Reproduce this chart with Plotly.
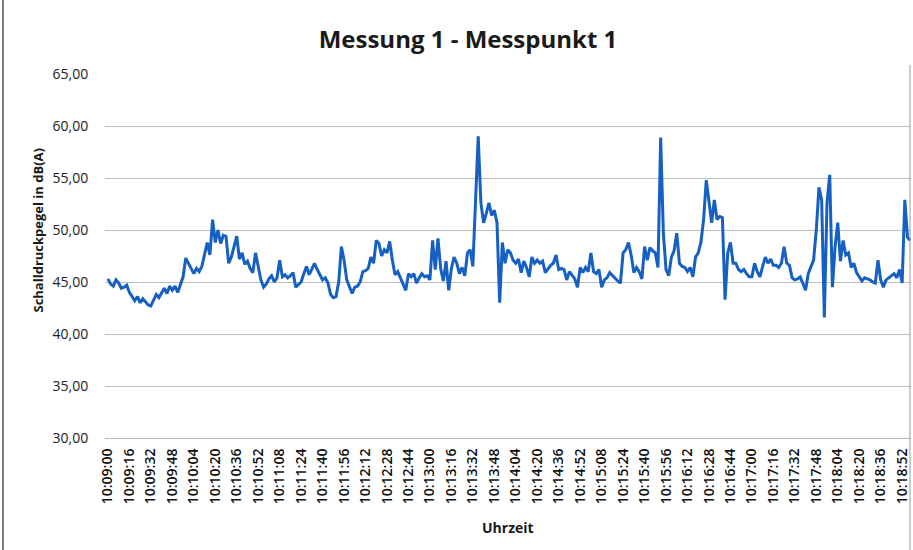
import pandas as pd
import plotly.graph_objects as go

# Schalldruckpegel in dB(A), one reading every 2 seconds starting 10:09:00
pegel = [
    45.3, 44.8, 44.6, 45.2, 44.9, 44.4, 44.5, 44.7,   # 10:09:00
    44.0, 43.6, 43.2, 43.6, 43.0, 43.4, 43.1, 42.8,   # 10:09:16
    42.7, 43.2, 43.8, 43.5, 44.0, 44.4, 43.9, 44.6,   # 10:09:32
    44.2, 44.6, 44.0, 44.8, 45.5, 47.3, 46.8, 46.2,   # 10:09:48
    45.8, 46.3, 46.0, 46.5, 47.8, 48.8, 47.6, 51.0,   # 10:10:04
    48.8, 50.0, 48.7, 49.5, 49.4, 46.8, 47.4, 48.4,   # 10:10:20
    49.4, 47.2, 47.8, 46.7, 47.0, 46.3, 45.9, 47.8,   # 10:10:36
    46.3, 45.2, 44.5, 44.8, 45.3, 45.6, 45.0, 45.4,   # 10:10:52
    47.1, 45.5, 45.7, 45.4, 45.6, 45.9, 44.5, 44.8,   # 10:11:08
    45.0, 45.8, 46.5, 45.7, 46.2, 46.8, 46.2, 45.7,   # 10:11:24
    45.2, 45.4, 44.9, 43.8, 43.5, 43.6, 45.0, 48.4,   # 10:11:40
    47.1, 45.2, 44.6, 43.9, 44.5, 44.6, 45.0, 46.0,   # 10:11:56
    46.1, 46.3, 47.4, 46.8, 49.0, 48.7, 47.5, 48.1,   # 10:12:12
    47.8, 48.9, 47.1, 45.7, 46.0, 45.4, 44.9, 44.2,   # 10:12:28
    45.8, 45.5, 45.8, 44.9, 45.4, 45.8, 45.5, 45.6,   # 10:12:44
    45.2, 49.0, 46.2, 49.2, 46.3, 45.1, 47.0, 44.2,   # 10:13:00
    46.3, 47.4, 46.8, 45.8, 46.4, 45.6, 47.8, 48.1,   # 10:13:16
    46.5, 52.0, 59.0, 52.6, 50.7, 51.6, 52.6, 51.4,   # 10:13:32
    51.9, 50.7, 43.0, 48.8, 46.8, 48.1, 47.8, 47.1,   # 10:13:48
    46.8, 47.2, 45.9, 47.0, 46.4, 45.5, 47.4, 46.8,   # 10:14:04
    47.1, 46.8, 47.0, 45.9, 46.3, 46.6, 46.8, 47.6,   # 10:14:20
    46.2, 46.3, 46.2, 45.2, 46.0, 45.7, 45.3, 44.5,   # 10:14:36
    46.4, 45.9, 46.4, 46.0, 47.8, 46.0, 45.8, 46.2,   # 10:14:52
    44.5, 45.2, 45.4, 45.9, 45.6, 45.3, 45.1, 44.9,   # 10:15:08
    47.8, 48.1, 48.8, 47.6, 45.9, 46.4, 46.0, 45.3,   # 10:15:24
    48.4, 47.1, 48.3, 48.0, 47.8, 46.4, 58.9, 49.7,   # 10:15:40
    46.2, 45.6, 47.4, 48.0, 49.7, 46.8, 46.5, 46.4,   # 10:15:56
    46.0, 46.4, 45.5, 47.4, 47.8, 48.8, 51.0, 54.8,   # 10:16:12
    52.9, 50.7, 52.9, 51.0, 51.3, 51.2, 43.3, 47.8,   # 10:16:28
    48.8, 46.8, 46.8, 46.2, 46.0, 46.2, 45.8, 45.5,   # 10:16:44
    45.5, 46.8, 46.0, 45.5, 46.5, 47.4, 46.8, 47.2,   # 10:17:00
    46.6, 46.6, 46.4, 46.8, 48.4, 46.8, 46.6, 45.4,   # 10:17:16
    45.2, 45.3, 45.5, 44.9, 44.2, 45.8, 46.4, 47.1,   # 10:17:32
    50.0, 54.1, 52.9, 41.6, 52.6, 55.3, 44.5, 48.4,   # 10:17:48
    50.7, 47.0, 49.0, 47.6, 47.8, 46.4, 46.8, 45.9,   # 10:18:04
    45.5, 45.1, 45.4, 45.3, 45.2, 45.0, 44.9, 47.1,   # 10:18:20
    45.2, 44.5, 45.2, 45.4, 45.6, 45.8, 45.4, 46.2,   # 10:18:36
    44.9, 52.9, 49.3, 49.0,                           # 10:18:52
]

start_time = "2024-01-01 10:09:00"
sample_step = "2s"
uhrzeit = list(pd.date_range(start_time, periods=len(pegel), freq=sample_step).strftime("%H:%M:%S"))

tick_labels = [
    "10:09:00", "10:09:16", "10:09:32", "10:09:48", "10:10:04", "10:10:20",
    "10:10:36", "10:10:52", "10:11:08", "10:11:24", "10:11:40", "10:11:56",
    "10:12:12", "10:12:28", "10:12:44", "10:13:00", "10:13:16", "10:13:32",
    "10:13:48", "10:14:04", "10:14:20", "10:14:36", "10:14:52", "10:15:08",
    "10:15:24", "10:15:40", "10:15:56", "10:16:12", "10:16:28", "10:16:44",
    "10:17:00", "10:17:16", "10:17:32", "10:17:48", "10:18:04", "10:18:20",
    "10:18:36", "10:18:52",
]
y_ticks = [30, 35, 40, 45, 50, 55, 60, 65]

fig = go.Figure()
fig.add_trace(go.Scatter(
    x=uhrzeit, y=pegel, mode="lines",
    line=dict(color="#1660c4", width=3),
    showlegend=False,
))

font = "Open Sans"
fig.update_layout(
    width=913, height=550,
    margin=dict(l=105, r=2, t=74, b=112, autoexpand=False),
    paper_bgcolor="white", plot_bgcolor="white",
    separators=",.",
    font=dict(family=font, color="#222222"),
    title=dict(text="<b>Messung 1 - Messpunkt 1</b>", x=468 / 913, xanchor="center",
               y=1 - 40 / 550, yanchor="middle",
               font=dict(size=24, family=font, color="#1a1a1a")),
)
fig.update_xaxes(
    type="category",
    categoryorder="array", categoryarray=uhrzeit,
    tickmode="array", tickvals=tick_labels, ticktext=tick_labels,
    tickangle=-90, tickfont=dict(size=14, family=font, color="#111111", weight=600),
    range=[-1.1, 299.3], automargin=False,
    showgrid=False, showline=True, linecolor="#b8b8b8", linewidth=1,
    ticks="outside", ticklen=4, tickcolor="rgba(0,0,0,0)", zeroline=False,
)
fig.update_yaxes(
    range=[30, 65], tickvals=y_ticks, tickformat=".2f", automargin=False,
    tickfont=dict(size=14, family=font, color="#222222"),
    showgrid=True, gridcolor="#bdbdbd", gridwidth=1,
    showline=False, zeroline=False,
    ticks="outside", ticklen=13, tickcolor="rgba(0,0,0,0)",
)
fig.add_annotation(
    text="<b>Schalldruckpegel in dB(A)</b>", textangle=-90,
    xref="paper", yref="paper", x=(38 - 105) / 806, y=0.57,
    xanchor="center", yanchor="middle",
    showarrow=False, font=dict(size=13, family=font, color="#1a1a1a"),
)
fig.add_annotation(
    text="<b>Uhrzeit</b>",
    xref="paper", yref="paper", x=(508 - 105) / 806, y=(438 - 527) / 364,
    xanchor="center", yanchor="middle",
    showarrow=False, font=dict(size=14, family=font, color="#1a1a1a"),
)
# frame of the scanned chart
fig.add_shape(type="line", xref="paper", yref="paper",
              x0=(3 - 105) / 806, x1=(3 - 105) / 806, y0=(438 - 550) / 364, y1=(438 - 0) / 364,
              line=dict(color="#555566", width=1.5))
fig.add_shape(type="line", xref="paper", yref="paper",
              x0=(910 - 105) / 806, x1=(910 - 105) / 806, y0=(438 - 550) / 364, y1=(438 - 65) / 364,
              line=dict(color="#9a9a9a", width=1))

fig.write_html("out.html", config={"displayModeBar": False},
               post_script="document.body.style.margin='0px';")
